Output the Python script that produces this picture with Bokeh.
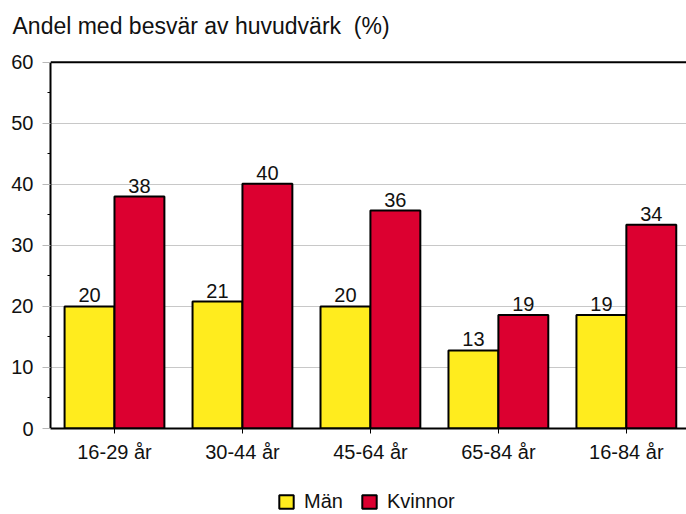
from bokeh.plotting import figure
from bokeh.layouts import column
from bokeh.models import (ColumnDataSource, Range1d, FixedTicker, Legend, LegendItem, Span)
from bokeh.transform import dodge
from bokeh.core.properties import value
from bokeh.embed import file_html
from bokeh.resources import INLINE

groups = ["16-29 år", "30-44 år", "45-64 år", "65-84 år", "16-84 år"]
man = [20.0, 20.8, 20.0, 12.8, 18.6]
kvinnor = [38.0, 40.1, 35.7, 18.6, 33.4]
man_labels = ["20", "21", "20", "13", "19"]
kv_labels = ["38", "40", "36", "19", "34"]
y_ticks = [0, 10, 20, 30, 40, 50, 60]
y_minor = [5, 15, 25, 35, 45, 55]
series_names = ["Män", "Kvinnor"]

FONT = "Liberation Sans"
YELLOW = "#ffec1e"
RED = "#dc0030"
TXT = "#111111"

pos = list(range(len(groups)))
src = ColumnDataSource(dict(x=pos, man=man, kv=kvinnor, ml=man_labels, kl=kv_labels))

# frame runs a little above the 60 line so the title can sit high; axis is bounded at 60
p = figure(width=686, height=470, output_backend="svg", toolbar_location=None,
           x_range=Range1d(-0.5, 4.47), y_range=Range1d(0, 63.9),
           min_border_left=50, min_border_right=0, min_border_top=38, min_border_bottom=42,
           title="Andel med besvär av huvudvärk\u00a0\u00a0(%)")

p.title.text_font = FONT
p.title.text_font_size = "23px"
p.title.text_font_style = "normal"
p.title.text_color = TXT
p.title.offset = -38
p.title.standoff = 0

p.outline_line_color = None
p.background_fill_color = "white"
p.border_fill_color = "white"

bw = 0.39
r1 = p.vbar(x=dodge("x", -bw / 2, range=p.x_range), top="man", width=bw, source=src,
            fill_color=YELLOW, line_color="black", line_width=2)
r2 = p.vbar(x=dodge("x", bw / 2, range=p.x_range), top="kv", width=bw, source=src,
            fill_color=RED, line_color="black", line_width=2)

for col, lab, off in (("man", "ml", -bw / 2), ("kv", "kl", bw / 2)):
    p.text(x=dodge("x", off, range=p.x_range), y=col, text=lab, source=src,
           text_align="center", text_baseline="alphabetic", y_offset=-11,
           text_font=value(FONT), text_font_size="20px", text_color=TXT)

p.add_layout(Span(location=60, dimension="width", line_color="black", line_width=2))

# grid
p.xgrid.visible = False
p.ygrid.ticker = FixedTicker(ticks=y_ticks)
p.ygrid.grid_line_color = "#c8c8c8"
p.ygrid.grid_line_width = 1

# y axis
ya = p.yaxis[0]
ya.ticker = FixedTicker(ticks=y_ticks, minor_ticks=y_minor)
ya.bounds = (y_ticks[0], y_ticks[-1])
ya.axis_line_width = 2
ya.axis_line_color = "black"
ya.major_tick_line_color = "#b8b8b8"
ya.major_tick_out = 8
ya.major_tick_in = 0
ya.minor_tick_line_color = "black"
ya.minor_tick_line_width = 1
ya.minor_tick_out = 3
ya.minor_tick_in = 0
ya.major_label_text_font = FONT
ya.major_label_text_font_size = "20px"
ya.major_label_text_color = TXT
ya.major_label_standoff = 9

# x axis
xa = p.xaxis[0]
xa.ticker = FixedTicker(ticks=pos)
xa.major_label_overrides = {i: g for i, g in zip(pos, groups)}
xa.axis_line_width = 2
xa.axis_line_color = "black"
xa.major_tick_line_color = "black"
xa.major_tick_out = 5
xa.major_tick_in = 0
xa.minor_tick_line_color = None
xa.major_label_text_font = FONT
xa.major_label_text_font_size = "20px"
xa.major_label_text_color = TXT
xa.major_label_standoff = 7

# legend strip below the chart
lf = figure(width=686, height=44, output_backend="svg", toolbar_location=None,
            x_range=Range1d(0, 1), y_range=Range1d(0, 1),
            x_axis_location=None, y_axis_location=None,
            min_border_left=0, min_border_right=0, min_border_top=0, min_border_bottom=0)
lf.outline_line_color = None
lf.xgrid.visible = False
lf.ygrid.visible = False
# legend swatches need one (off-screen) data row each to be drawn
swatch = ColumnDataSource(dict(x=[5], top=[0]))
l1 = lf.vbar(x="x", top="top", width=0.1, source=swatch,
             fill_color=YELLOW, line_color="black", line_width=2)
l2 = lf.vbar(x="x", top="top", width=0.1, source=swatch,
             fill_color=RED, line_color="black", line_width=2)
legend = Legend(items=[LegendItem(label=series_names[0], renderers=[l1]),
                       LegendItem(label=series_names[1], renderers=[l2])],
                orientation="horizontal", location=(227, 1),
                label_text_font=FONT, label_text_font_size="20px",
                label_text_color=TXT,
                glyph_width=18, glyph_height=17, spacing=17, label_standoff=9,
                border_line_color=None, background_fill_alpha=0,
                padding=4, margin=0)
lf.add_layout(legend, "center")

layout = column(p, lf, spacing=0)
open("out.html", "w").write(file_html(layout, INLINE))
